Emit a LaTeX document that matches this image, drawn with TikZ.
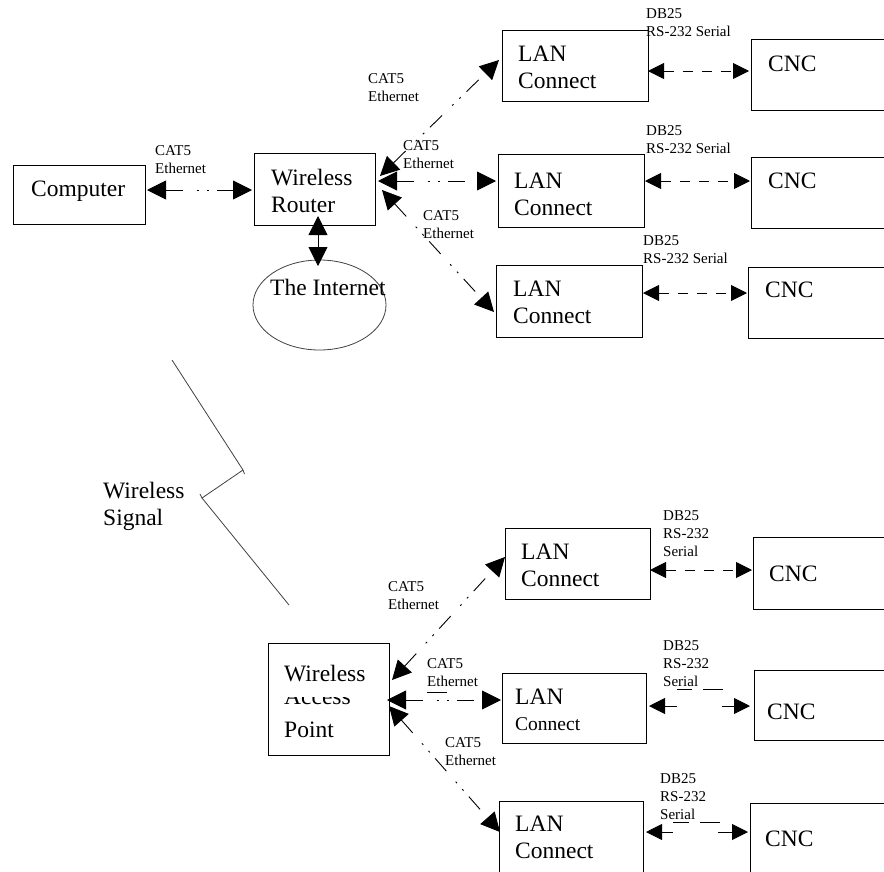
\documentclass[tikz,border=0pt]{standalone}
\usepackage{fontspec}
\setmainfont{Liberation Serif}
\usetikzlibrary{arrows.meta,shapes.geometric,fit}
\newcommand\mkbox[5]{\coordinate (#1-a) at (#2,#3); \coordinate (#1-b) at (#4,#5); \node[boxst, fit=(#1-a)(#1-b)] (#1) {};}
\tikzset{
  boxst/.style={draw, line width=0.9pt, inner sep=0pt, outer sep=0pt},
  big/.style={font=\fontsize{23.5}{27}\selectfont, align=left, inner sep=0pt, anchor=north west},
  lbl/.style={font=\fontsize{15}{18}\selectfont, align=left, inner sep=0pt, anchor=north west},
  bigtip/.tip={Triangle[length=19pt,width=19pt]},
  sertip/.tip={Triangle[length=16pt,width=16pt]},
  cat/.style={line width=0.9pt, dash pattern=on 17pt off 14pt on 2pt off 8pt on 2pt off 8pt, bigtip-bigtip},
  ser/.style={line width=0.9pt, dash pattern=on 10pt off 9pt, sertip-sertip},
  thinl/.style={line width=0.8pt, black!75},
}
\begin{document}
\begin{tikzpicture}[x=1pt,y=-1pt]
\useasboundingbox (0,0) rectangle (884,871);
% ---------- boxes ----------
\mkbox{comp}{13}{165}{145}{224}
\mkbox{router}{254}{153}{375}{225}
\mkbox{lan1}{502}{30}{648}{101}
\mkbox{cnc1}{751}{39}{890}{110}
\mkbox{lan2}{498}{154}{644}{227}
\mkbox{cnc2}{751}{157}{890}{228}
\mkbox{lan3}{496}{265}{642}{337}
\mkbox{cnc3}{748}{267}{890}{338}
\mkbox{wap}{268}{643}{389}{755}
\mkbox{lanb1}{505}{528}{650}{599}
\mkbox{cncb1}{753}{537}{890}{609}
\mkbox{lanb2}{502}{673}{646}{743}
\mkbox{cncb2}{754}{670}{890}{740}
\mkbox{lanb3}{499}{801}{643}{880}
\mkbox{cncb3}{750}{803}{890}{880}
\node[draw, thinl, ellipse, minimum width=133pt, minimum height=90pt, inner sep=0pt] (inet) at (319.5,305) {};
% ---------- texts ----------
\node[big] (tcomp) at (31,181) {Computer};
\node[big] (trouter) at (271,169) {Wireless\\Router};
\node[big] (tinet) at (270,279) {The Internet};
\node[big] (tlan1) at (518,46) {LAN\\Connect};
\node[big] (tcnc1) at (768,56) {CNC};
\node[big] (tlan2) at (514,173) {LAN\\Connect};
\node[big] (tcnc2) at (768,173) {CNC};
\node[big] (tlan3) at (513,281) {LAN\\Connect};
\node[big] (tcnc3) at (765,282) {CNC};
\node[big] (twap1) at (284,665) {Wireless};
\begin{scope}
  \clip (272,697) rectangle (386,705);
  \node[big, anchor=base west] (twap2) at (284,704) {Access};
\end{scope}
\node[big, anchor=base west] (twap3) at (284,737) {Point};
\node[big] (tsig) at (103,482) {Wireless\\Signal};
\node[big] (tlanb1) at (521,544) {LAN\\Connect};
\node[big] (tcncb1) at (769,566) {CNC};
\node[big, anchor=base west] (tlanb2a) at (515,704) {LAN};
\node[big, anchor=base west, font=\fontsize{19.5}{24}\selectfont] (tlanb2b) at (515,730) {Connect};
\node[big] (tcncb2) at (767,704) {CNC};
\node[big] (tlanb3) at (515,816) {LAN\\Connect};
\node[big] (tcncb3) at (765,831) {CNC};
% ---------- labels ----------
\node[lbl] (lc0) at (155,145) {CAT5\\Ethernet};
\node[lbl] (lt1) at (368,73) {CAT5\\Ethernet};
\node[lbl] (lt2) at (403,140) {CAT5\\Ethernet};
\node[lbl] (lt3) at (423,210) {CAT5\\Ethernet};
\node[lbl] (ld1) at (646,8) {DB25\\RS-232 Serial};
\node[lbl] (ld2) at (646,125) {DB25\\RS-232 Serial};
\node[lbl] (ld3) at (643,235) {DB25\\RS-232 Serial};
\node[lbl] (lb1) at (388,581) {CAT5\\Ethernet};
\node[lbl] (lb2) at (427,658) {CAT5\\Ethernet};
\node[lbl] (lb3) at (445,737) {CAT5\\Ethernet};
\node[lbl] (ldb1) at (663,510) {DB25\\RS-232\\Serial};
\node[lbl] (ldb2) at (663,640) {DB25\\RS-232\\Serial};
\node[lbl] (ldb3) at (660,773) {DB25\\RS-232\\Serial};
% ---------- connector end points ----------
\coordinate (c0a) at (147,190); \coordinate (c0b) at (252,190);
\coordinate (ia) at (318,216); \coordinate (ib) at (318,266);
\coordinate (r1a) at (380,176); \coordinate (r1b) at (499,60);
\coordinate (r2a) at (378,181); \coordinate (r2b) at (496,181);
\coordinate (r3a) at (382,190); \coordinate (r3b) at (494,312);
\coordinate (a1a) at (392,680); \coordinate (a1b) at (505,557);
\coordinate (a2a) at (387,700); \coordinate (a2b) at (501,700);
\coordinate (a3a) at (389,706); \coordinate (a3b) at (500,832);
\coordinate (s1a) at (648,71); \coordinate (s1b) at (749,71);
\coordinate (s2a) at (645,181); \coordinate (s2b) at (750,181);
\coordinate (s3a) at (643,293); \coordinate (s3b) at (747,293);
\coordinate (sb1a) at (650,570); \coordinate (sb1b) at (752,570);
\coordinate (sb2a) at (649,706); \coordinate (sb2m1) at (677,706);
\coordinate (sb2m2) at (722,706); \coordinate (sb2b) at (750,706);
\coordinate (sb3a) at (646,832); \coordinate (sb3m1) at (673,832);
\coordinate (sb3m2) at (718,832); \coordinate (sb3b) at (748,832);
% ---------- connectors ----------
\draw[cat] (c0a) -- (c0b);
\draw[line width=0.9pt, bigtip-bigtip] (ia) -- (ib);
\draw[cat] (r1a) -- (r1b);
\draw[cat] (r2a) -- (r2b);
\draw[cat] (r3a) -- (r3b);
\draw[cat] (a1a) -- (a1b);
\draw[cat] (a2a) -- (a2b);
\draw[cat] (a3a) -- (a3b);
\draw[ser] (s1a) -- (s1b);
\draw[ser] (s2a) -- (s2b);
\draw[ser] (s3a) -- (s3b);
\draw[ser] (sb1a) -- (sb1b);
\draw[line width=0.9pt, sertip-] (sb2a) -- (sb2m1);
\draw[line width=0.9pt, -sertip] (sb2m2) -- (sb2b);
\draw[line width=0.9pt, sertip-] (sb3a) -- (sb3m1);
\draw[line width=0.9pt, -sertip] (sb3m2) -- (sb3b);
\draw[line width=0.8pt] (677,689) -- (692,689) (703,689) -- (723,689);
\draw[line width=0.8pt] (673,822) -- (689,822) (700,822) -- (720,822);
\draw[line width=0.8pt] (427,692) -- (447,692);
% ---------- wireless signal ----------
\coordinate (w0) at (172,360); \coordinate (w1) at (243,470);
\coordinate (w2) at (202,498); \coordinate (w3) at (289,605);
\draw[thinl] (w0) -- (w1) -- (w2) -- (w3);
\draw[thinl] (w1) -- ++(1.5,4);
\draw[thinl] (w2) -- ++(-2,-4);
\end{tikzpicture}
\end{document}
